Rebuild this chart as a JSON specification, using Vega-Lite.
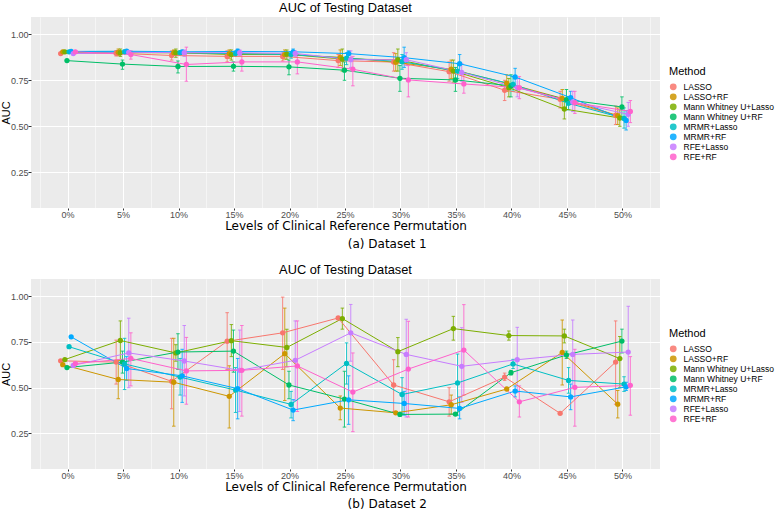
{
  "$schema": "https://vega.github.io/schema/vega-lite/v6.json",
  "padding": {"left": 0, "top": 2, "right": 1, "bottom": 0},
  "spacing": 14,
  "datasets": {
    "ds1": [
      {"level":0,"method":"LASSO","auc":0.895,"lo":0.889,"hi":0.901},
      {"level":0,"method":"LASSO+RF","auc":0.905,"lo":0.9,"hi":0.91},
      {"level":0,"method":"Mann Whitney U+Lasso","auc":0.905,"lo":0.9,"hi":0.91},
      {"level":0,"method":"Mann Whitney U+RF","auc":0.857,"lo":0.851,"hi":0.863},
      {"level":0,"method":"MRMR+Lasso","auc":0.905,"lo":0.9,"hi":0.91},
      {"level":0,"method":"MRMR+RF","auc":0.907,"lo":0.903,"hi":0.911},
      {"level":0,"method":"RFE+Lasso","auc":0.895,"lo":0.889,"hi":0.901},
      {"level":0,"method":"RFE+RF","auc":0.905,"lo":0.9,"hi":0.91},
      {"level":5,"method":"LASSO","auc":0.897,"lo":0.882,"hi":0.912},
      {"level":5,"method":"LASSO+RF","auc":0.902,"lo":0.884,"hi":0.92},
      {"level":5,"method":"Mann Whitney U+Lasso","auc":0.9,"lo":0.88,"hi":0.92},
      {"level":5,"method":"Mann Whitney U+RF","auc":0.838,"lo":0.81,"hi":0.86},
      {"level":5,"method":"MRMR+Lasso","auc":0.905,"lo":0.895,"hi":0.915},
      {"level":5,"method":"MRMR+RF","auc":0.908,"lo":0.9,"hi":0.916},
      {"level":5,"method":"RFE+Lasso","auc":0.902,"lo":0.892,"hi":0.912},
      {"level":5,"method":"RFE+RF","auc":0.89,"lo":0.865,"hi":0.91},
      {"level":10,"method":"LASSO","auc":0.885,"lo":0.86,"hi":0.91},
      {"level":10,"method":"LASSO+RF","auc":0.9,"lo":0.885,"hi":0.915},
      {"level":10,"method":"Mann Whitney U+Lasso","auc":0.9,"lo":0.875,"hi":0.92},
      {"level":10,"method":"Mann Whitney U+RF","auc":0.825,"lo":0.79,"hi":0.855},
      {"level":10,"method":"MRMR+Lasso","auc":0.9,"lo":0.89,"hi":0.91},
      {"level":10,"method":"MRMR+RF","auc":0.905,"lo":0.897,"hi":0.913},
      {"level":10,"method":"RFE+Lasso","auc":0.9,"lo":0.88,"hi":0.915},
      {"level":10,"method":"RFE+RF","auc":0.836,"lo":0.745,"hi":0.93},
      {"level":15,"method":"LASSO","auc":0.88,"lo":0.85,"hi":0.91},
      {"level":15,"method":"LASSO+RF","auc":0.895,"lo":0.87,"hi":0.915},
      {"level":15,"method":"Mann Whitney U+Lasso","auc":0.89,"lo":0.86,"hi":0.915},
      {"level":15,"method":"Mann Whitney U+RF","auc":0.826,"lo":0.8,"hi":0.85},
      {"level":15,"method":"MRMR+Lasso","auc":0.895,"lo":0.88,"hi":0.91},
      {"level":15,"method":"MRMR+RF","auc":0.907,"lo":0.89,"hi":0.92},
      {"level":15,"method":"RFE+Lasso","auc":0.9,"lo":0.885,"hi":0.915},
      {"level":15,"method":"RFE+RF","auc":0.85,"lo":0.8,"hi":0.9},
      {"level":20,"method":"LASSO","auc":0.88,"lo":0.855,"hi":0.905},
      {"level":20,"method":"LASSO+RF","auc":0.89,"lo":0.865,"hi":0.915},
      {"level":20,"method":"Mann Whitney U+Lasso","auc":0.892,"lo":0.865,"hi":0.915},
      {"level":20,"method":"Mann Whitney U+RF","auc":0.823,"lo":0.78,"hi":0.86},
      {"level":20,"method":"MRMR+Lasso","auc":0.89,"lo":0.87,"hi":0.905},
      {"level":20,"method":"MRMR+RF","auc":0.905,"lo":0.89,"hi":0.92},
      {"level":20,"method":"RFE+Lasso","auc":0.896,"lo":0.88,"hi":0.91},
      {"level":20,"method":"RFE+RF","auc":0.85,"lo":0.785,"hi":0.89},
      {"level":25,"method":"LASSO","auc":0.857,"lo":0.82,"hi":0.89},
      {"level":25,"method":"LASSO+RF","auc":0.875,"lo":0.83,"hi":0.915},
      {"level":25,"method":"Mann Whitney U+Lasso","auc":0.865,"lo":0.8,"hi":0.92},
      {"level":25,"method":"Mann Whitney U+RF","auc":0.805,"lo":0.75,"hi":0.85},
      {"level":25,"method":"MRMR+Lasso","auc":0.87,"lo":0.835,"hi":0.9},
      {"level":25,"method":"MRMR+RF","auc":0.895,"lo":0.87,"hi":0.91},
      {"level":25,"method":"RFE+Lasso","auc":0.862,"lo":0.82,"hi":0.91},
      {"level":25,"method":"RFE+RF","auc":0.81,"lo":0.72,"hi":0.88},
      {"level":30,"method":"LASSO","auc":0.849,"lo":0.8,"hi":0.9},
      {"level":30,"method":"LASSO+RF","auc":0.848,"lo":0.8,"hi":0.895},
      {"level":30,"method":"Mann Whitney U+Lasso","auc":0.862,"lo":0.8,"hi":0.92},
      {"level":30,"method":"Mann Whitney U+RF","auc":0.761,"lo":0.69,"hi":0.83},
      {"level":30,"method":"MRMR+Lasso","auc":0.851,"lo":0.81,"hi":0.89},
      {"level":30,"method":"MRMR+RF","auc":0.873,"lo":0.82,"hi":0.93},
      {"level":30,"method":"RFE+Lasso","auc":0.862,"lo":0.83,"hi":0.9},
      {"level":30,"method":"RFE+RF","auc":0.752,"lo":0.66,"hi":0.83},
      {"level":35,"method":"LASSO","auc":0.797,"lo":0.745,"hi":0.85},
      {"level":35,"method":"LASSO+RF","auc":0.81,"lo":0.76,"hi":0.86},
      {"level":35,"method":"Mann Whitney U+Lasso","auc":0.8,"lo":0.74,"hi":0.86},
      {"level":35,"method":"Mann Whitney U+RF","auc":0.752,"lo":0.69,"hi":0.82},
      {"level":35,"method":"MRMR+Lasso","auc":0.8,"lo":0.76,"hi":0.84},
      {"level":35,"method":"MRMR+RF","auc":0.84,"lo":0.79,"hi":0.89},
      {"level":35,"method":"RFE+Lasso","auc":0.793,"lo":0.745,"hi":0.84},
      {"level":35,"method":"RFE+RF","auc":0.73,"lo":0.68,"hi":0.78},
      {"level":40,"method":"LASSO","auc":0.696,"lo":0.64,"hi":0.75},
      {"level":40,"method":"LASSO+RF","auc":0.734,"lo":0.69,"hi":0.78},
      {"level":40,"method":"Mann Whitney U+Lasso","auc":0.71,"lo":0.66,"hi":0.76},
      {"level":40,"method":"Mann Whitney U+RF","auc":0.72,"lo":0.66,"hi":0.78},
      {"level":40,"method":"MRMR+Lasso","auc":0.728,"lo":0.69,"hi":0.77},
      {"level":40,"method":"MRMR+RF","auc":0.768,"lo":0.72,"hi":0.815},
      {"level":40,"method":"RFE+Lasso","auc":0.71,"lo":0.66,"hi":0.76},
      {"level":40,"method":"RFE+RF","auc":0.71,"lo":0.65,"hi":0.77},
      {"level":45,"method":"LASSO","auc":0.647,"lo":0.6,"hi":0.69},
      {"level":45,"method":"LASSO+RF","auc":0.652,"lo":0.6,"hi":0.7},
      {"level":45,"method":"Mann Whitney U+Lasso","auc":0.594,"lo":0.54,"hi":0.65},
      {"level":45,"method":"Mann Whitney U+RF","auc":0.645,"lo":0.59,"hi":0.7},
      {"level":45,"method":"MRMR+Lasso","auc":0.625,"lo":0.59,"hi":0.66},
      {"level":45,"method":"MRMR+RF","auc":0.656,"lo":0.62,"hi":0.69},
      {"level":45,"method":"RFE+Lasso","auc":0.632,"lo":0.58,"hi":0.69},
      {"level":45,"method":"RFE+RF","auc":0.628,"lo":0.57,"hi":0.69},
      {"level":50,"method":"LASSO","auc":0.56,"lo":0.51,"hi":0.61},
      {"level":50,"method":"LASSO+RF","auc":0.558,"lo":0.51,"hi":0.6},
      {"level":50,"method":"Mann Whitney U+Lasso","auc":0.545,"lo":0.5,"hi":0.59},
      {"level":50,"method":"Mann Whitney U+RF","auc":0.605,"lo":0.55,"hi":0.66},
      {"level":50,"method":"MRMR+Lasso","auc":0.543,"lo":0.49,"hi":0.6},
      {"level":50,"method":"MRMR+RF","auc":0.532,"lo":0.48,"hi":0.585},
      {"level":50,"method":"RFE+Lasso","auc":0.565,"lo":0.5,"hi":0.63},
      {"level":50,"method":"RFE+RF","auc":0.581,"lo":0.52,"hi":0.64}
    ],
    "ds2": [
      {"level":0,"method":"LASSO","auc":0.647,"lo":0.642,"hi":0.652},
      {"level":0,"method":"LASSO+RF","auc":0.626,"lo":0.621,"hi":0.631},
      {"level":0,"method":"Mann Whitney U+Lasso","auc":0.654,"lo":0.649,"hi":0.659},
      {"level":0,"method":"Mann Whitney U+RF","auc":0.61,"lo":0.605,"hi":0.615},
      {"level":0,"method":"MRMR+Lasso","auc":0.724,"lo":0.719,"hi":0.729},
      {"level":0,"method":"MRMR+RF","auc":0.778,"lo":0.773,"hi":0.783},
      {"level":0,"method":"RFE+Lasso","auc":0.622,"lo":0.617,"hi":0.627},
      {"level":0,"method":"RFE+RF","auc":0.632,"lo":0.627,"hi":0.637},
      {"level":5,"method":"LASSO","auc":0.64,"lo":0.52,"hi":0.76},
      {"level":5,"method":"LASSO+RF","auc":0.545,"lo":0.44,"hi":0.65},
      {"level":5,"method":"Mann Whitney U+Lasso","auc":0.758,"lo":0.65,"hi":0.865},
      {"level":5,"method":"Mann Whitney U+RF","auc":0.64,"lo":0.58,"hi":0.7},
      {"level":5,"method":"MRMR+Lasso","auc":0.63,"lo":0.49,"hi":0.77},
      {"level":5,"method":"MRMR+RF","auc":0.605,"lo":0.54,"hi":0.67},
      {"level":5,"method":"RFE+Lasso","auc":0.69,"lo":0.5,"hi":0.88},
      {"level":5,"method":"RFE+RF","auc":0.66,"lo":0.51,"hi":0.8},
      {"level":10,"method":"LASSO","auc":0.535,"lo":0.385,"hi":0.77},
      {"level":10,"method":"LASSO+RF","auc":0.53,"lo":0.29,"hi":0.77},
      {"level":10,"method":"Mann Whitney U+Lasso","auc":0.69,"lo":0.645,"hi":0.735},
      {"level":10,"method":"Mann Whitney U+RF","auc":0.695,"lo":0.6,"hi":0.795},
      {"level":10,"method":"MRMR+Lasso","auc":0.558,"lo":0.46,"hi":0.66},
      {"level":10,"method":"MRMR+RF","auc":0.565,"lo":0.42,"hi":0.71},
      {"level":10,"method":"RFE+Lasso","auc":0.646,"lo":0.455,"hi":0.84},
      {"level":10,"method":"RFE+RF","auc":0.592,"lo":0.41,"hi":0.775},
      {"level":15,"method":"LASSO","auc":0.754,"lo":0.6,"hi":0.91},
      {"level":15,"method":"LASSO+RF","auc":0.453,"lo":0.28,"hi":0.62},
      {"level":15,"method":"Mann Whitney U+Lasso","auc":0.757,"lo":0.67,"hi":0.845},
      {"level":15,"method":"Mann Whitney U+RF","auc":0.7,"lo":0.585,"hi":0.815},
      {"level":15,"method":"MRMR+Lasso","auc":0.487,"lo":0.365,"hi":0.61},
      {"level":15,"method":"MRMR+RF","auc":0.495,"lo":0.33,"hi":0.66},
      {"level":15,"method":"RFE+Lasso","auc":0.595,"lo":0.37,"hi":0.815},
      {"level":15,"method":"RFE+RF","auc":0.595,"lo":0.345,"hi":0.84},
      {"level":20,"method":"LASSO","auc":0.8,"lo":0.6,"hi":0.995},
      {"level":20,"method":"LASSO+RF","auc":0.686,"lo":0.43,"hi":0.935},
      {"level":20,"method":"Mann Whitney U+Lasso","auc":0.72,"lo":0.615,"hi":0.82},
      {"level":20,"method":"Mann Whitney U+RF","auc":0.515,"lo":0.44,"hi":0.59},
      {"level":20,"method":"MRMR+Lasso","auc":0.409,"lo":0.335,"hi":0.48},
      {"level":20,"method":"MRMR+RF","auc":0.378,"lo":0.32,"hi":0.435},
      {"level":20,"method":"RFE+Lasso","auc":0.65,"lo":0.43,"hi":0.865},
      {"level":20,"method":"RFE+RF","auc":0.619,"lo":0.37,"hi":0.865},
      {"level":25,"method":"LASSO","auc":0.881,"lo":0.875,"hi":0.885},
      {"level":25,"method":"LASSO+RF","auc":0.389,"lo":0.325,"hi":0.455},
      {"level":25,"method":"Mann Whitney U+Lasso","auc":0.878,"lo":0.82,"hi":0.935},
      {"level":25,"method":"Mann Whitney U+RF","auc":0.438,"lo":0.285,"hi":0.59},
      {"level":25,"method":"MRMR+Lasso","auc":0.633,"lo":0.52,"hi":0.745},
      {"level":25,"method":"MRMR+RF","auc":0.434,"lo":0.3,"hi":0.565},
      {"level":25,"method":"RFE+Lasso","auc":0.8,"lo":0.645,"hi":0.955},
      {"level":25,"method":"RFE+RF","auc":0.476,"lo":0.26,"hi":0.69},
      {"level":30,"method":"LASSO","auc":0.515,"lo":0.37,"hi":0.653},
      {"level":30,"method":"LASSO+RF","auc":0.363,"lo":0.355,"hi":0.37},
      {"level":30,"method":"Mann Whitney U+Lasso","auc":0.697,"lo":0.615,"hi":0.774},
      {"level":30,"method":"Mann Whitney U+RF","auc":0.354,"lo":0.349,"hi":0.359},
      {"level":30,"method":"MRMR+Lasso","auc":0.463,"lo":0.36,"hi":0.555},
      {"level":30,"method":"MRMR+RF","auc":0.414,"lo":0.35,"hi":0.48},
      {"level":30,"method":"RFE+Lasso","auc":0.682,"lo":0.34,"hi":0.874},
      {"level":30,"method":"RFE+RF","auc":0.602,"lo":0.34,"hi":0.863},
      {"level":35,"method":"LASSO","auc":0.423,"lo":0.345,"hi":0.5},
      {"level":35,"method":"LASSO+RF","auc":0.407,"lo":0.355,"hi":0.46},
      {"level":35,"method":"Mann Whitney U+Lasso","auc":0.823,"lo":0.76,"hi":0.89},
      {"level":35,"method":"Mann Whitney U+RF","auc":0.356,"lo":0.351,"hi":0.361},
      {"level":35,"method":"MRMR+Lasso","auc":0.526,"lo":0.35,"hi":0.684},
      {"level":35,"method":"MRMR+RF","auc":0.387,"lo":0.33,"hi":0.45},
      {"level":35,"method":"RFE+Lasso","auc":0.617,"lo":0.42,"hi":0.828},
      {"level":35,"method":"RFE+RF","auc":0.706,"lo":0.46,"hi":0.954},
      {"level":40,"method":"LASSO","auc":0.558,"lo":0.54,"hi":0.58},
      {"level":40,"method":"LASSO+RF","auc":0.493,"lo":0.488,"hi":0.5},
      {"level":40,"method":"Mann Whitney U+Lasso","auc":0.785,"lo":0.76,"hi":0.81},
      {"level":40,"method":"Mann Whitney U+RF","auc":0.582,"lo":0.57,"hi":0.595},
      {"level":40,"method":"MRMR+Lasso","auc":0.63,"lo":0.605,"hi":0.655},
      {"level":40,"method":"MRMR+RF","auc":0.482,"lo":0.45,"hi":0.51},
      {"level":40,"method":"RFE+Lasso","auc":0.653,"lo":0.475,"hi":0.83},
      {"level":40,"method":"RFE+RF","auc":0.423,"lo":0.34,"hi":0.51},
      {"level":45,"method":"LASSO","auc":0.36,"lo":0.355,"hi":0.365},
      {"level":45,"method":"LASSO+RF","auc":0.693,"lo":0.515,"hi":0.87},
      {"level":45,"method":"Mann Whitney U+Lasso","auc":0.783,"lo":0.745,"hi":0.82},
      {"level":45,"method":"Mann Whitney U+RF","auc":0.679,"lo":0.66,"hi":0.7},
      {"level":45,"method":"MRMR+Lasso","auc":0.54,"lo":0.47,"hi":0.61},
      {"level":45,"method":"MRMR+RF","auc":0.45,"lo":0.38,"hi":0.52},
      {"level":45,"method":"RFE+Lasso","auc":0.682,"lo":0.5,"hi":0.87},
      {"level":45,"method":"RFE+RF","auc":0.502,"lo":0.29,"hi":0.71},
      {"level":50,"method":"LASSO","auc":0.64,"lo":0.41,"hi":0.865},
      {"level":50,"method":"LASSO+RF","auc":0.41,"lo":0.335,"hi":0.485},
      {"level":50,"method":"Mann Whitney U+Lasso","auc":0.659,"lo":0.5,"hi":0.78},
      {"level":50,"method":"Mann Whitney U+RF","auc":0.755,"lo":0.69,"hi":0.82},
      {"level":50,"method":"MRMR+Lasso","auc":0.52,"lo":0.48,"hi":0.56},
      {"level":50,"method":"MRMR+RF","auc":0.505,"lo":0.485,"hi":0.53},
      {"level":50,"method":"RFE+Lasso","auc":0.695,"lo":0.5,"hi":0.945},
      {"level":50,"method":"RFE+RF","auc":0.513,"lo":0.35,"hi":0.67}
    ]
  },
  "vconcat": [
    {
      "title": {"text": "(a) Dataset 1", "orient": "bottom", "anchor": "middle", "frame": "bounds", "font": "DejaVu Sans", "fontSize": 12, "fontWeight": "normal", "color": "black", "offset": 8},
      "vconcat": [
        {
          "title": {"text": "AUC of Testing Dataset", "anchor": "middle", "frame": "group", "font": "Liberation Sans", "fontSize": 12.8, "fontWeight": "normal", "color": "black", "offset": 2},
          "width": 629,
          "height": 191,
          "data": {"name": "ds1"},
          "encoding": {
            "xOffset": {"field": "method", "type": "nominal", "scale": {"type": "point", "domain": ["LASSO","LASSO+RF","Mann Whitney U+Lasso","Mann Whitney U+RF","MRMR+Lasso","MRMR+RF","RFE+Lasso","RFE+RF"], "range": [20.4, 35.1], "padding": 0}},
            "color": {"field": "method", "type": "nominal", "title": "Method",
              "scale": {"domain": ["LASSO","LASSO+RF","Mann Whitney U+Lasso","Mann Whitney U+RF","MRMR+Lasso","MRMR+RF","RFE+Lasso","RFE+RF"], "range": ["#F8766D","#CD9600","#7CAE00","#00BE67","#00BFC4","#00A9FF","#C77CFF","#FF61CC"]},
              "legend": {"orient": "none", "legendX": 638, "legendY": 49, "symbolType": "circle", "symbolSize": 28, "rowPadding": 0, "clipHeight": 7.6, "titlePadding": 6, "labelOffset": 6}}
          },
          "resolve": {"axis": {"x": "independent"}},
          "layer": [
            {"mark": {"type": "rule", "strokeWidth": 1, "opacity": 0.85},
             "encoding": {
               "x": {"field": "level", "type": "ordinal", "scale": {"type": "band", "domain": [0,5,10,15,20,25,30,35,40,45,50], "paddingInner": 0, "paddingOuter": 0.167}, "axis": null},
               "y": {"field": "lo", "type": "quantitative", "title": "AUC", "scale": {"domain": [0.056, 1.094], "nice": false, "zero": false}, "axis": {"values": [0.25,0.5,0.75,1.0], "format": ".2f", "labelPadding": 0, "titlePadding": -1}},
               "y2": {"field": "hi"}}},
            {"mark": {"type": "tick", "orient": "horizontal", "size": 3.5, "thickness": 1, "opacity": 0.85},
             "encoding": {
               "x": {"field": "level", "type": "ordinal", "scale": {"type": "band", "domain": [0,5,10,15,20,25,30,35,40,45,50], "paddingInner": 0, "paddingOuter": 0.167},
                 "axis": {"orient": "bottom", "bandPosition": 1, "values": [50], "grid": true, "gridWidth": 0.5, "labels": false, "ticks": false, "domain": false, "title": null}},
               "y": {"field": "lo", "type": "quantitative", "title": "AUC", "scale": {"domain": [0.056, 1.094], "nice": false, "zero": false}, "axis": {"values": [0.25,0.5,0.75,1.0], "format": ".2f", "labelPadding": 0, "titlePadding": -1}}}},
            {"mark": {"type": "tick", "orient": "horizontal", "size": 3.5, "thickness": 1, "opacity": 0.85},
             "encoding": {
               "x": {"field": "level", "type": "ordinal", "scale": {"type": "band", "domain": [0,5,10,15,20,25,30,35,40,45,50], "paddingInner": 0, "paddingOuter": 0.167}, "axis": null},
               "y": {"field": "hi", "type": "quantitative", "title": "AUC", "scale": {"domain": [0.056, 1.094], "nice": false, "zero": false}, "axis": {"values": [0.25,0.5,0.75,1.0], "format": ".2f", "labelPadding": 0, "titlePadding": -1}}}},
            {"mark": {"type": "line", "strokeWidth": 1},
             "encoding": {
               "x": {"field": "level", "type": "ordinal", "scale": {"type": "band", "domain": [0,5,10,15,20,25,30,35,40,45,50], "paddingInner": 0, "paddingOuter": 0.167},
                 "axis": {"orient": "bottom", "bandPosition": 0, "grid": true, "gridWidth": 0.5, "labels": false, "ticks": false, "domain": false, "title": null}},
               "y": {"field": "auc", "type": "quantitative", "title": "AUC", "scale": {"domain": [0.056, 1.094], "nice": false, "zero": false}, "axis": {"values": [0.25,0.5,0.75,1.0], "format": ".2f", "labelPadding": 0, "titlePadding": -1}}}},
            {"mark": {"type": "point", "filled": true, "size": 28, "opacity": 1},
             "encoding": {
               "x": {"field": "level", "type": "ordinal", "title": "Levels of Clinical Reference Permutation", "scale": {"type": "band", "domain": [0,5,10,15,20,25,30,35,40,45,50], "paddingInner": 0, "paddingOuter": 0.167},
                 "axis": {"orient": "bottom", "bandPosition": 0.5, "grid": true, "gridWidth": 1, "labelAngle": 0, "labelExpr": "datum.label + '%'", "tickSize": 2, "labelPadding": 0, "titlePadding": 1, "titleFont": "DejaVu Sans", "titleFontSize": 12, "labelOverlap": false}},
               "y": {"field": "auc", "type": "quantitative", "title": "AUC", "scale": {"domain": [0.056, 1.094], "nice": false, "zero": false}, "axis": {"values": [0.25,0.5,0.75,1.0], "format": ".2f", "labelPadding": 0, "titlePadding": -1}}}}
          ]
        }
      ]
    },
    {
      "title": {"text": "(b) Dataset 2", "orient": "bottom", "anchor": "middle", "frame": "bounds", "font": "DejaVu Sans", "fontSize": 12, "fontWeight": "normal", "color": "black", "offset": 7},
      "vconcat": [
        {
          "title": {"text": "AUC of Testing Dataset", "anchor": "middle", "frame": "group", "font": "Liberation Sans", "fontSize": 12.8, "fontWeight": "normal", "color": "black", "offset": 2},
          "width": 629,
          "height": 190,
          "data": {"name": "ds2"},
          "encoding": {
            "xOffset": {"field": "method", "type": "nominal", "scale": {"type": "point", "domain": ["LASSO","LASSO+RF","Mann Whitney U+Lasso","Mann Whitney U+RF","MRMR+Lasso","MRMR+RF","RFE+Lasso","RFE+RF"], "range": [20.4, 35.1], "padding": 0}},
            "color": {"field": "method", "type": "nominal", "title": "Method",
              "scale": {"domain": ["LASSO","LASSO+RF","Mann Whitney U+Lasso","Mann Whitney U+RF","MRMR+Lasso","MRMR+RF","RFE+Lasso","RFE+RF"], "range": ["#F8766D","#CD9600","#7CAE00","#00BE67","#00BFC4","#00A9FF","#C77CFF","#FF61CC"]},
              "legend": {"orient": "none", "legendX": 638, "legendY": 49, "symbolType": "circle", "symbolSize": 28, "rowPadding": 0, "clipHeight": 7.6, "titlePadding": 6, "labelOffset": 6}}
          },
          "resolve": {"axis": {"x": "independent"}},
          "layer": [
            {"mark": {"type": "rule", "strokeWidth": 1, "opacity": 0.85},
             "encoding": {
               "x": {"field": "level", "type": "ordinal", "scale": {"type": "band", "domain": [0,5,10,15,20,25,30,35,40,45,50], "paddingInner": 0, "paddingOuter": 0.167}, "axis": null},
               "y": {"field": "lo", "type": "quantitative", "title": "AUC", "scale": {"domain": [0.056, 1.094], "nice": false, "zero": false}, "axis": {"values": [0.25,0.5,0.75,1.0], "format": ".2f", "labelPadding": 0, "titlePadding": -1}},
               "y2": {"field": "hi"}}},
            {"mark": {"type": "tick", "orient": "horizontal", "size": 3.5, "thickness": 1, "opacity": 0.85},
             "encoding": {
               "x": {"field": "level", "type": "ordinal", "scale": {"type": "band", "domain": [0,5,10,15,20,25,30,35,40,45,50], "paddingInner": 0, "paddingOuter": 0.167},
                 "axis": {"orient": "bottom", "bandPosition": 1, "values": [50], "grid": true, "gridWidth": 0.5, "labels": false, "ticks": false, "domain": false, "title": null}},
               "y": {"field": "lo", "type": "quantitative", "title": "AUC", "scale": {"domain": [0.056, 1.094], "nice": false, "zero": false}, "axis": {"values": [0.25,0.5,0.75,1.0], "format": ".2f", "labelPadding": 0, "titlePadding": -1}}}},
            {"mark": {"type": "tick", "orient": "horizontal", "size": 3.5, "thickness": 1, "opacity": 0.85},
             "encoding": {
               "x": {"field": "level", "type": "ordinal", "scale": {"type": "band", "domain": [0,5,10,15,20,25,30,35,40,45,50], "paddingInner": 0, "paddingOuter": 0.167}, "axis": null},
               "y": {"field": "hi", "type": "quantitative", "title": "AUC", "scale": {"domain": [0.056, 1.094], "nice": false, "zero": false}, "axis": {"values": [0.25,0.5,0.75,1.0], "format": ".2f", "labelPadding": 0, "titlePadding": -1}}}},
            {"mark": {"type": "line", "strokeWidth": 1},
             "encoding": {
               "x": {"field": "level", "type": "ordinal", "scale": {"type": "band", "domain": [0,5,10,15,20,25,30,35,40,45,50], "paddingInner": 0, "paddingOuter": 0.167},
                 "axis": {"orient": "bottom", "bandPosition": 0, "grid": true, "gridWidth": 0.5, "labels": false, "ticks": false, "domain": false, "title": null}},
               "y": {"field": "auc", "type": "quantitative", "title": "AUC", "scale": {"domain": [0.056, 1.094], "nice": false, "zero": false}, "axis": {"values": [0.25,0.5,0.75,1.0], "format": ".2f", "labelPadding": 0, "titlePadding": -1}}}},
            {"mark": {"type": "point", "filled": true, "size": 28, "opacity": 1},
             "encoding": {
               "x": {"field": "level", "type": "ordinal", "title": "Levels of Clinical Reference Permutation", "scale": {"type": "band", "domain": [0,5,10,15,20,25,30,35,40,45,50], "paddingInner": 0, "paddingOuter": 0.167},
                 "axis": {"orient": "bottom", "bandPosition": 0.5, "grid": true, "gridWidth": 1, "labelAngle": 0, "labelExpr": "datum.label + '%'", "tickSize": 2, "labelPadding": 0, "titlePadding": 1, "titleFont": "DejaVu Sans", "titleFontSize": 12, "labelOverlap": false}},
               "y": {"field": "auc", "type": "quantitative", "title": "AUC", "scale": {"domain": [0.056, 1.094], "nice": false, "zero": false}, "axis": {"values": [0.25,0.5,0.75,1.0], "format": ".2f", "labelPadding": 0, "titlePadding": -1}}}}
          ]
        }
      ]
    }
  ],
  "resolve": {"scale": {"color": "independent"}, "legend": {"color": "independent"}},
  "config": {
    "view": {"fill": "#EBEBEB", "stroke": null},
    "axis": {"domain": false, "gridColor": "#FFFFFF", "tickColor": "#333333", "tickSize": 3, "labelColor": "#4D4D4D", "labelFont": "Liberation Sans", "labelFontSize": 9, "titleFont": "Liberation Sans", "titleFontSize": 11, "titleFontWeight": "normal", "titleColor": "#000000"},
    "legend": {"titleFont": "Liberation Sans", "titleFontSize": 11, "titleFontWeight": "normal", "titleColor": "#000000", "labelFont": "Liberation Sans", "labelFontSize": 8.5, "labelColor": "#000000"}
  }
}
